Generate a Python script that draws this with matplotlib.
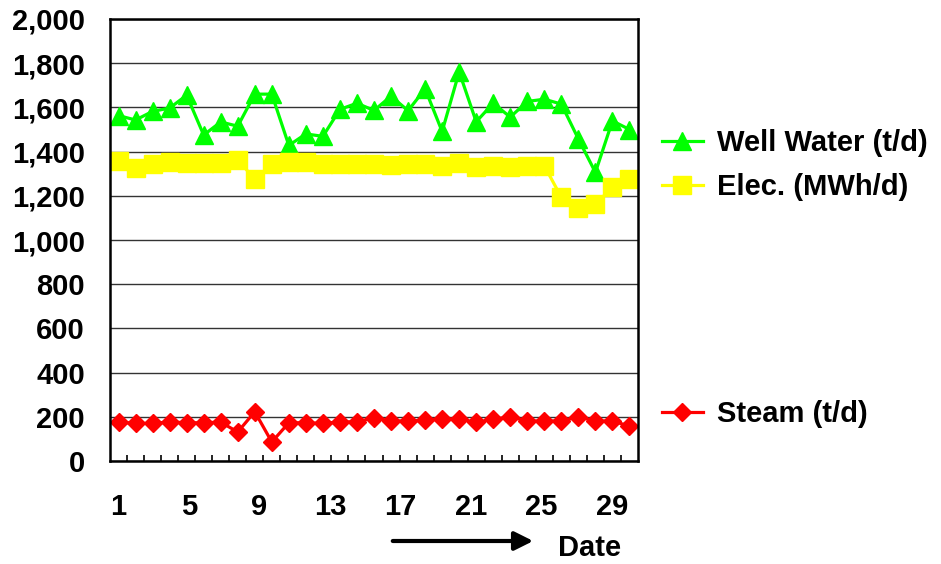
import numpy as np
import matplotlib
matplotlib.use('Agg')
import matplotlib.pyplot as plt
from matplotlib.ticker import FuncFormatter, FixedLocator

plt.rcParams['font.family'] = ['Liberation Sans', 'DejaVu Sans']
plt.rcParams['font.weight'] = 'bold'

# daily values
days = list(range(1, 32))
well_water = [1563, 1543, 1582, 1597, 1655, 1475, 1534, 1515, 1660, 1660, 1428,
              1480, 1469, 1591, 1619, 1586, 1651, 1585, 1684, 1491, 1761, 1535,
              1619, 1556, 1627, 1637, 1615, 1457, 1306, 1539, 1500]
elec = [1359, 1324, 1342, 1351, 1348, 1348, 1348, 1362, 1276, 1342, 1354,
        1354, 1344, 1344, 1344, 1344, 1339, 1344, 1344, 1336, 1348, 1332,
        1336, 1332, 1336, 1336, 1193, 1145, 1163, 1238, 1276]
steam = [177, 170, 170, 177, 173, 173, 176, 131, 223, 86, 173,
         173, 170, 177, 177, 196, 181, 181, 185, 191, 188, 176,
         188, 200, 181, 181, 181, 200, 181, 181, 158]
labels = ['Well Water (t/d)', 'Elec. (MWh/d)', 'Steam (t/d)']
day_labels = [1, 5, 9, 13, 17, 21, 25, 29]

fig = plt.figure(figsize=(9.41, 5.64), dpi=100)
ax = fig.add_axes([110/941, 1-461/564, 528/941, 442/564])

fs = 21
h1, = ax.plot(days, well_water, color='#00ff00', lw=2.3, marker='^', ms=13, label=labels[0])
h2, = ax.plot(days, elec, color='#ffff00', lw=2.3, marker='s', ms=12.5, label=labels[1])
h3, = ax.plot(days, steam, color='#ff0000', lw=2.3, marker='D', ms=9.5, label=labels[2])

ax.set_xlim(0.5, 31.5)
ax.set_ylim(0, 2000)
ax.set_yticks(np.arange(0, 2001, 200))
ax.yaxis.set_major_formatter(FuncFormatter(lambda v, p: '{:,.0f}'.format(v)))
ax.grid(axis='y', color='#333333', lw=1.0)
ax.set_axisbelow(True)

#category ticks between days, labels every 4 days
#(the original spreads its labels a little wider than the categories)
ax.set_xticks([1 + (d - 1) * 1.035 for d in day_labels])
ax.set_xticklabels([str(d) for d in day_labels])
ax.xaxis.set_minor_locator(FixedLocator(np.arange(1.5, 31, 1)))
ax.tick_params(axis='x', which='major', length=0, pad=23, labelsize=fs)
ax.tick_params(axis='x', which='minor', direction='in', length=4, width=1.2)
ax.tick_params(axis='y', length=0, pad=18, labelsize=fs)
for lab in ax.get_xticklabels() + ax.get_yticklabels():
    lab.set_fontweight('bold')

for s in ax.spines.values():
    s.set_linewidth(1.8)
    s.set_color('black')

leg1 = fig.legend(handles=[h1, h2], loc='center left', bbox_to_anchor=(662/941, 1-165/564),
                  frameon=False, fontsize=fs, handlelength=1.4, handletextpad=0.5,
                  labelspacing=0.55, borderpad=0, borderaxespad=0)
leg2 = fig.legend(handles=[h3], loc='center left', bbox_to_anchor=(662/941, 1-414/564),
                  frameon=False, fontsize=fs, handlelength=1.4, handletextpad=0.5,
                  borderpad=0, borderaxespad=0)
for t in leg1.get_texts() + leg2.get_texts():
    t.set_fontweight('bold')

#arrow pointing to the Date label
ax.annotate('', xy=(536/941, 1-541/564), xytext=(390/941, 1-541/564),
            xycoords='figure fraction', textcoords='figure fraction',
            arrowprops=dict(arrowstyle='-|>', lw=3, color='black', mutation_scale=28))
fig.text(590/941, 1-548/564, 'Date', ha='center', va='center', fontsize=fs, fontweight='bold')

plt.savefig('out.png', dpi=100)
